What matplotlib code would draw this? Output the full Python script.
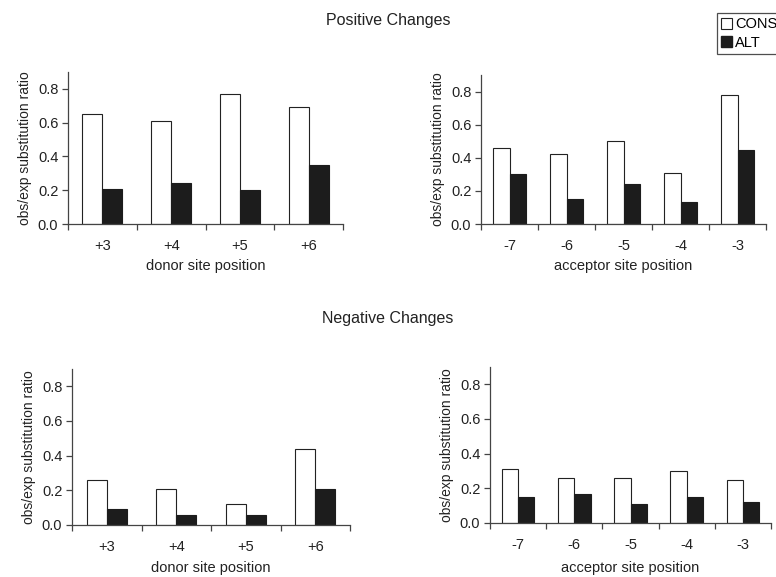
import numpy as np
import matplotlib
matplotlib.use("Agg")
import matplotlib.pyplot as plt
from matplotlib.patches import Patch

plt.rcParams['font.family'] = ['Liberation Sans', 'DejaVu Sans']

donor_pos = ['+3', '+4', '+5', '+6']
acceptor_pos = ['-7', '-6', '-5', '-4', '-3']

pos_donor_cons = [0.65, 0.61, 0.77, 0.69]
pos_donor_alt = [0.21, 0.24, 0.20, 0.35]
pos_acc_cons = [0.46, 0.42, 0.50, 0.31, 0.78]
pos_acc_alt = [0.30, 0.15, 0.24, 0.13, 0.45]

neg_donor_cons = [0.26, 0.21, 0.12, 0.44]
neg_donor_alt = [0.09, 0.06, 0.06, 0.21]
neg_acc_cons = [0.31, 0.26, 0.26, 0.30, 0.25]
neg_acc_alt = [0.15, 0.17, 0.11, 0.15, 0.12]

W, H = 776, 577
fig = plt.figure(figsize=(W / 100, H / 100), dpi=100)
FS = 10.5


def px_axes(left, right, bottom, top):
    # pixel box -> figure fraction
    return fig.add_axes([left / W, 1 - bottom / H, (right - left) / W, (bottom - top) / H])


def bar_panel(ax, labels, cons, alt, xlabel, xlabel_pad=4):
    x = np.arange(len(labels))
    w = 0.29
    ax.bar(x - w / 2, cons, w, color='white', edgecolor='#222222', linewidth=0.8)
    ax.bar(x + w / 2, alt, w, color='#1c1c1c', edgecolor='#1c1c1c', linewidth=0.8)
    ax.set_xlim(-0.5, len(labels) - 0.5)
    ax.set_ylim(0, 0.9)
    ax.set_yticks([0.0, 0.2, 0.4, 0.6, 0.8])
    ax.set_yticklabels(['0.0', '0.2', '0.4', '0.6', '0.8'])
    # category-boundary ticks, labels in between
    ax.set_xticks(np.arange(len(labels) + 1) - 0.5)
    ax.set_xticklabels([])
    ax.set_xticks(x, minor=True)
    ax.set_xticklabels(labels, minor=True)
    ax.tick_params(axis='x', which='minor', length=0, pad=11, labelsize=FS, colors='#222222')
    ax.tick_params(axis='x', which='major', length=4, width=0.9, color='#444444')
    ax.tick_params(axis='y', length=4, width=0.9, color='#444444', labelsize=FS,
                   labelcolor='#222222', pad=3)
    for s in ['top', 'right']:
        ax.spines[s].set_visible(False)
    for s in ['left', 'bottom']:
        ax.spines[s].set_color('#444444')
        ax.spines[s].set_linewidth(0.9)
    ax.set_xlabel(xlabel, fontsize=FS, color='#222222', labelpad=xlabel_pad)
    ax.set_ylabel('obs/exp substitution ratio', fontsize=10, color='#222222', labelpad=4)


ax1 = px_axes(68, 343, 224, 72)
bar_panel(ax1, donor_pos, pos_donor_cons, pos_donor_alt, 'donor site position')

ax2 = px_axes(481, 766, 224, 75)
bar_panel(ax2, acceptor_pos, pos_acc_cons, pos_acc_alt, 'acceptor site position')

ax3 = px_axes(72, 350, 525, 369)
bar_panel(ax3, donor_pos, neg_donor_cons, neg_donor_alt, 'donor site position', xlabel_pad=5)

ax4 = px_axes(490, 771, 523, 367)
bar_panel(ax4, acceptor_pos, neg_acc_cons, neg_acc_alt, 'acceptor site position', xlabel_pad=6)

fig.text(388 / W, 1 - 20 / H, 'Positive Changes', ha='center', va='center',
         fontsize=11.5, color='#222222')
fig.text(388 / W, 1 - 318 / H, 'Negative Changes', ha='center', va='center',
         fontsize=11.5, color='#222222')

handles = [Patch(facecolor='white', edgecolor='#222222', linewidth=0.8, label='CONS'),
           Patch(facecolor='#1c1c1c', edgecolor='#1c1c1c', label='ALT')]
leg = fig.legend(handles=handles, loc='upper left', bbox_to_anchor=(717 / W, 1 - 13 / H),
                 frameon=True, fancybox=False, fontsize=FS, handlelength=0.75,
                 handleheight=0.75, handletextpad=0.2, borderpad=0.3, labelspacing=0.3,
                 borderaxespad=0)
leg.get_frame().set_edgecolor('#222222')
leg.get_frame().set_linewidth(0.9)

fig.savefig('out.png', dpi=100)
